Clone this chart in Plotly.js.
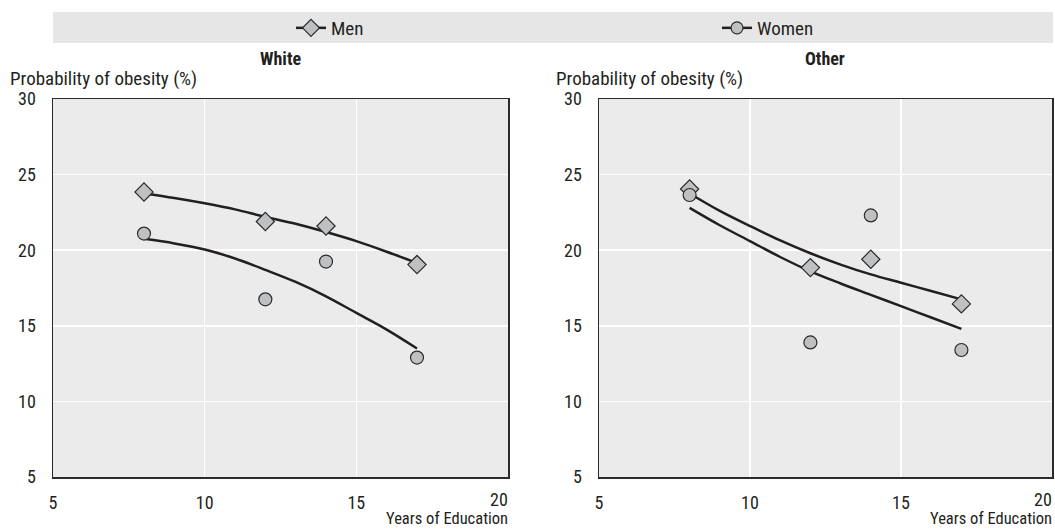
<!DOCTYPE html>
<html>
<head>
<meta charset="utf-8">
<script src="https://cdn.plot.ly/plotly-3.0.1.min.js"></script>
<style>html,body{margin:0;padding:0;background:#fff;}#chart{width:1055px;height:530px;}</style>
</head>
<body>
<div id="chart"></div>
<script>
// ---- Data ----
const panels = ["White", "Other"];
const eduYears = [8, 12, 14, 17];

const whiteMen   = [23.85, 21.9, 21.6, 19.05];
const whiteWomen = [21.1, 16.75, 19.25, 12.9];
const otherMen   = [24.05, 18.85, 19.4, 16.45];
const otherWomen = [23.65, 13.9, 22.3, 13.4];

// fitted curves
const fitYears = [8, 9, 10, 11, 12, 13, 14, 15, 16, 17];
const whiteMenFit   = [23.75, 23.45, 23.1, 22.7, 22.2, 21.75, 21.2, 20.6, 19.9, 19.15];
const whiteWomenFit = [20.75, 20.45, 20.05, 19.45, 18.7, 17.9, 16.95, 15.85, 14.75, 13.5];
const otherMenFit   = [23.75, 22.6, 21.6, 20.65, 19.8, 19.05, 18.4, 17.85, 17.3, 16.75];
const otherWomenFit = [22.8, 21.65, 20.6, 19.55, 18.6, 17.8, 17.05, 16.3, 15.55, 14.8];

const seriesNames = ["Men", "Women"];
const yTitle = "Probability of obesity (%)";
const xTitle = "Years of Education";
const xTicks = [5, 10, 15, 20];
const xTickText = ["5", "10", "15", ""];
const xLastTick = "20";
const yTicks = [5, 10, 15, 20, 25, 30];

// ---- Style ----
const FONT = "'Liberation Sans Narrow', 'Arial Narrow', 'Roboto Condensed', 'DejaVu Sans Condensed', 'Liberation Sans', sans-serif";
const TXT = "#231f20";
const MFILL = "#bfc0c2";
const MLINE = {color: "#2b2b2b", width: 1.2};
const LCOL = "#231f20";

function pts(x, y, sym, xa, ya) {
  return {x: x, y: y, xaxis: xa, yaxis: ya, mode: "markers", type: "scatter", showlegend: false,
    marker: {symbol: sym, size: sym === "diamond" ? 14 : 13, color: MFILL, line: MLINE}, hoverinfo: "x+y"};
}
function fit(x, y, xa, ya) {
  return {x: x, y: y, xaxis: xa, yaxis: ya, mode: "lines", type: "scatter", showlegend: false,
    line: {color: LCOL, width: 2.5, shape: "spline"}, hoverinfo: "skip"};
}

const data = [
  fit(fitYears, whiteMenFit, "x", "y"),
  fit(fitYears, whiteWomenFit, "x", "y"),
  pts(eduYears, whiteMen, "diamond", "x", "y"),
  pts(eduYears, whiteWomen, "circle", "x", "y"),
  fit(fitYears, otherMenFit, "x2", "y2"),
  fit(fitYears, otherWomenFit, "x2", "y2"),
  pts(eduYears, otherMen, "diamond", "x2", "y2"),
  pts(eduYears, otherWomen, "circle", "x2", "y2"),
  // legend entries
  {x: [null], y: [null], xaxis: "x", yaxis: "y", mode: "lines+markers", type: "scatter", name: seriesNames[0],
    legend: "legend", line: {color: LCOL, width: 2.5}, marker: {symbol: "diamond", size: 13, color: MFILL, line: MLINE}},
  {x: [null], y: [null], xaxis: "x", yaxis: "y", mode: "lines+markers", type: "scatter", name: seriesNames[1],
    legend: "legend2", line: {color: LCOL, width: 2.5}, marker: {symbol: "circle", size: 12, color: MFILL, line: MLINE}}
];

const W = 1055, H = 530;
const px = v => v / W, py = v => 1 - v / H;

function xax(dom) {
  return {domain: dom, range: [5, 20], tickvals: xTicks, ticktext: xTickText, ticks: "outside", ticklen: 9, tickcolor: "rgba(0,0,0,0)",
    showgrid: true, gridcolor: "#ffffff", gridwidth: 1.5, zeroline: false,
    showline: true, mirror: true, linecolor: "#2b2b2b", linewidth: 1.5,
    tickfont: {family: FONT, size: 18, color: TXT}, fixedrange: true};
}
function yax(anchor) {
  return {domain: [py(477), py(99)], range: [5, 30], tickvals: yTicks, ticks: "outside", ticklen: 12, tickcolor: "rgba(0,0,0,0)",
    showgrid: true, gridcolor: "#ffffff", gridwidth: 1.5, zeroline: false, anchor: anchor,
    showline: true, mirror: true, linecolor: "#2b2b2b", linewidth: 1.5,
    tickfont: {family: FONT, size: 18, color: TXT}, fixedrange: true};
}
function leg(x) {
  return {orientation: "h", x: x, y: py(28), xanchor: "left", yanchor: "middle",
    bgcolor: "rgba(0,0,0,0)", font: {family: FONT, size: 19, color: TXT}, itemclick: false, itemdoubleclick: false};
}

const layout = {
  width: W, height: H,
  margin: {l: 0, r: 0, t: 0, b: 0},
  paper_bgcolor: "#ffffff",
  plot_bgcolor: "#ebebeb",
  font: {family: FONT, size: 19, color: TXT},
  xaxis: Object.assign(xax([px(53), px(508)]), {anchor: "y"}),
  yaxis: yax("x"),
  xaxis2: Object.assign(xax([px(599), px(1052)]), {anchor: "y2"}),
  yaxis2: yax("x2"),
  showlegend: true,
  legend: leg(px(291)),
  legend2: leg(px(717)),
  shapes: [
    {type: "rect", xref: "paper", yref: "paper", x0: px(53), x1: px(1053), y0: py(43), y1: py(12),
      fillcolor: "#e6e6e7", line: {width: 0}, layer: "below"}
  ],
  annotations: [
    {text: "<b>" + panels[0] + "</b>", xref: "paper", yref: "paper", x: px(280), y: py(59), showarrow: false,
      xanchor: "center", yanchor: "middle", font: {family: FONT, size: 18, color: TXT}},
    {text: "<b>" + panels[1] + "</b>", xref: "paper", yref: "paper", x: px(825), y: py(59), showarrow: false,
      xanchor: "center", yanchor: "middle", font: {family: FONT, size: 18, color: TXT}},
    {text: yTitle, xref: "paper", yref: "paper", x: px(8), y: py(79), showarrow: false,
      xanchor: "left", yanchor: "middle", font: {family: FONT, size: 19, color: TXT}},
    {text: yTitle, xref: "paper", yref: "paper", x: px(554), y: py(79), showarrow: false,
      xanchor: "left", yanchor: "middle", font: {family: FONT, size: 19, color: TXT}},
    {text: xLastTick, xref: "paper", yref: "paper", x: px(510), y: py(499), showarrow: false,
      xanchor: "right", yanchor: "middle", font: {family: FONT, size: 18, color: TXT}},
    {text: xLastTick, xref: "paper", yref: "paper", x: px(1054), y: py(499), showarrow: false,
      xanchor: "right", yanchor: "middle", font: {family: FONT, size: 18, color: TXT}},
    {text: xTitle, xref: "paper", yref: "paper", x: px(510), y: 0, showarrow: false,
      xanchor: "right", yanchor: "bottom", font: {family: FONT, size: 16.5, color: TXT}},
    {text: xTitle, xref: "paper", yref: "paper", x: px(1054), y: 0, showarrow: false,
      xanchor: "right", yanchor: "bottom", font: {family: FONT, size: 16.5, color: TXT}}
  ]
};

Plotly.newPlot("chart", data, layout, {displayModeBar: false, staticPlot: true});
</script>
</body>
</html>
